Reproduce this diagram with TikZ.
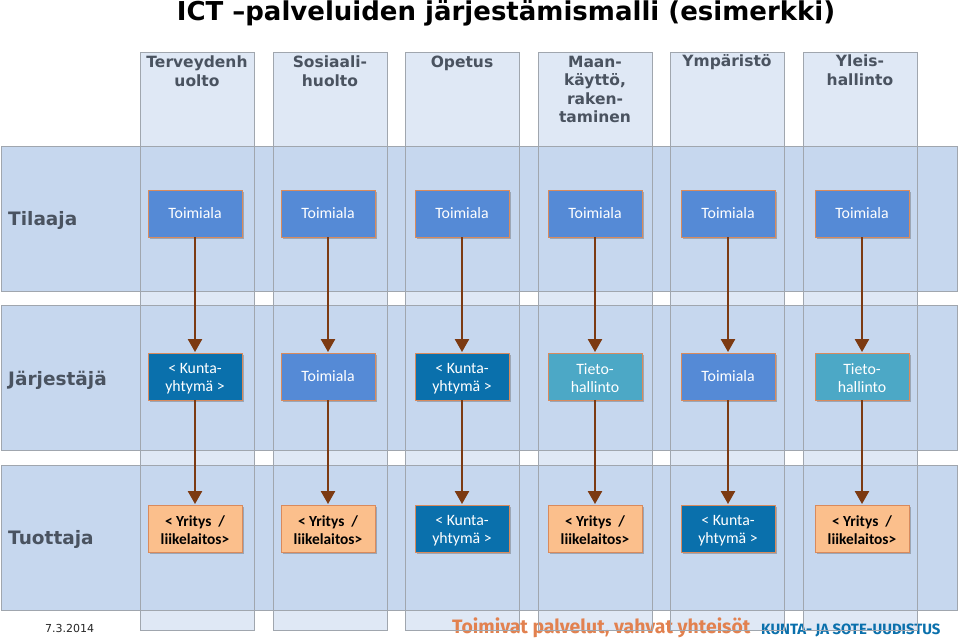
\documentclass[tikz,border=0pt]{standalone}
\usepackage{fontspec}
\setmainfont{DejaVu Sans}
\newfontfamily\boxfont{Carlito}
\newfontfamily\footfont{Fira Sans}
\usetikzlibrary{arrows.meta,shadows}
\definecolor{coltop}{HTML}{DFE8F5}
\definecolor{rowfill}{HTML}{C6D7EE}
\definecolor{edgegray}{HTML}{A0A6AE}
\definecolor{headtxt}{HTML}{4A5360}
\definecolor{toimi}{HTML}{558AD6}
\definecolor{kunta}{HTML}{0A70AC}
\definecolor{tieto}{HTML}{4CA8C6}
\definecolor{yritys}{HTML}{FBBF8C}
\definecolor{boxedge}{HTML}{D98A5C}
\definecolor{brownarrow}{HTML}{7C3A12}
\definecolor{slogancol}{HTML}{E2814F}
\tikzset{
 colshape/.style={fill=coltop,draw=edgegray,line width=.9pt},
 rowshape/.style={fill=rowfill,draw=edgegray,line width=.9pt},
 colline/.style={draw=edgegray,line width=.9pt},
 colhead/.style={anchor=north,align=center,text=headtxt,font=\fontsize{15.5}{18.5}\selectfont\bfseries,inner sep=0pt},
 rowhead/.style={anchor=west,text=headtxt,font=\fontsize{18.5}{22}\selectfont\bfseries,inner sep=0pt},
 unit/.style={minimum width=94pt,minimum height=47pt,inner sep=0pt,align=center,draw=boxedge,line width=.9pt,
   font=\boxfont\fontsize{15.8}{18.5}\selectfont,
   drop shadow={shadow xshift=1.5pt,shadow yshift=-2pt,opacity=.35,fill=black!70}},
 utoimi/.style={unit,fill=toimi,text=white,text depth=-1.5pt},
 ukunta/.style={unit,fill=kunta,text=white},
 utieto/.style={unit,fill=tieto,text=white},
 uyritys/.style={unit,fill=yritys,text=black,font=\boxfont\bfseries\fontsize{15.4}{18.5}\selectfont},
 flow/.style={-{Triangle[width=14pt,length=13pt]},draw=brownarrow,line width=2.4pt,shorten >=.5pt},
}
\begin{document}
\begin{tikzpicture}[x=1pt,y=-1pt]
\useasboundingbox (0,0) rectangle (959,643);
\fill[white] (0,0) rectangle (959,643);
% columns
\foreach \x in {140,273,405,538,670,803}{
  \filldraw[colshape] (\x,52) rectangle ++(114,578);
}
% footer texts under the column lines
\node[anchor=west,inner sep=0pt,text=black!85,font=\fontsize{11}{13}\selectfont] (date) at (45,628) {7.3.2014};
\node[anchor=west,inner sep=0pt,text=slogancol,font=\footfont\bfseries\fontsize{19.4}{24}\selectfont] (slogan) at (452,628) {Toimivat palvelut, vahvat yhteisöt};
\node[anchor=west,inner sep=0pt,text=kunta,font=\footfont\bfseries\fontsize{14.9}{17}\selectfont] (brand) at (761,630) {KUNTA- JA SOTE-UUDISTUS};
% rows
\foreach \y in {146,305,465}{
  \filldraw[rowshape] (1,\y) rectangle (957,\y+145);
}
% column outlines over rows
\foreach \x in {140,273,405,538,670,803}{
  \draw[colline] (\x,52) rectangle ++(114,578);
}
% title
\node[inner sep=0pt,font=\fontsize{26}{30}\selectfont\bfseries] (title) at (506,13) {ICT –palveluiden järjestämismalli (esimerkki)};
% column heads
\node[colhead] (h1) at (197,55.7) {Terveydenh\\uolto};
\node[colhead] (h2) at (330,55.7) {Sosiaali-\\huolto};
\node[colhead] (h3) at (462,55.7) {Opetus};
\node[colhead] (h4) at (595,55.7) {Maan-\\käyttö,\\raken-\\taminen};
\node[colhead] (h5) at (727,54.7) {Ympäristö};
\node[colhead] (h6) at (860,54.7) {Yleis-\\hallinto};
% row heads
\node[rowhead] (r1) at (8,220.5) {Tilaaja};
\node[rowhead] (r2) at (8,380) {Järjestäjä};
\node[rowhead] (r3) at (8,539.5) {Tuottaja};
% units
\foreach \n/\x in {1/195,2/328,3/462,4/595,5/728,6/862}{
  \node[utoimi] (a\n) at (\x,213.5) {Toimiala};
}
\node[ukunta] (b1) at (195,376.5) {\rule{0pt}{14.5pt}< Kunta-\\yhtymä >};
\node[utoimi] (b2) at (328,376.5) {Toimiala};
\node[ukunta] (b3) at (462,376.5) {\rule{0pt}{14.5pt}< Kunta-\\yhtymä >};
\node[utieto] (b4) at (595,376.5) {\rule{0pt}{14.5pt}Tieto-\\hallinto};
\node[utoimi] (b5) at (728,376.5) {Toimiala};
\node[utieto] (b6) at (862,376.5) {\rule{0pt}{14.5pt}Tieto-\\hallinto};
\node[uyritys] (c1) at (195,528.5) {\rule{0pt}{14.5pt}< Yritys~~/\\liikelaitos>};
\node[uyritys] (c2) at (328,528.5) {\rule{0pt}{14.5pt}< Yritys~~/\\liikelaitos>};
\node[ukunta] (c3) at (462,528.5) {\rule{0pt}{14.5pt}< Kunta-\\yhtymä >};
\node[uyritys] (c4) at (595,528.5) {\rule{0pt}{14.5pt}< Yritys~~/\\liikelaitos>};
\node[ukunta] (c5) at (728,528.5) {\rule{0pt}{14.5pt}< Kunta-\\yhtymä >};
\node[uyritys] (c6) at (862,528.5) {\rule{0pt}{14.5pt}< Yritys~~/\\liikelaitos>};
% connectors
\foreach \n in {1,...,6}{
  \draw[flow] (a\n) -- (b\n);
  \draw[flow] (b\n) -- (c\n);
}
\end{tikzpicture}
\end{document}
